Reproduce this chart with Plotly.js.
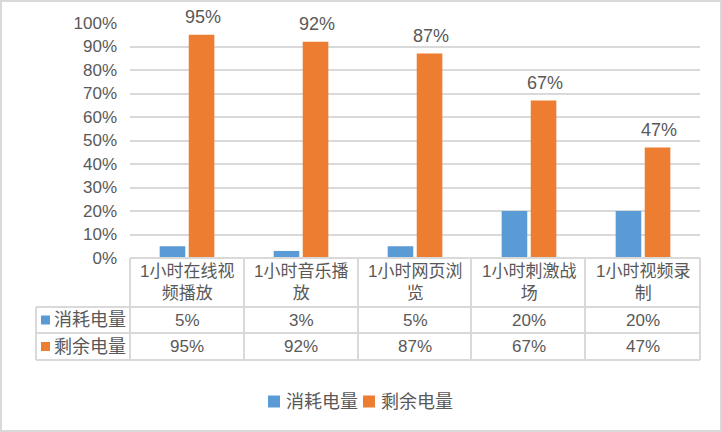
<!DOCTYPE html>
<html>
<head>
<meta charset="utf-8">
<script src="https://cdn.plot.ly/plotly-3.0.1.min.js"></script>
<style>
  html, body { margin: 0; padding: 0; background: #fff; }
  #chart { width: 722px; height: 432px; }
</style>
</head>
<body>
<div id="chart"></div>
<script>
const categories = ['1小时在线视频播放', '1小时音乐播放', '1小时网页浏览', '1小时刺激战场', '1小时视频录制'];
const categoryLabels = ['1小时在线视<br>频播放', '1小时音乐播<br>放', '1小时网页浏<br>览', '1小时刺激战<br>场', '1小时视频录<br>制'];
const seriesNames = ['消耗电量', '剩余电量'];
const consumed = [0.05, 0.03, 0.05, 0.20, 0.20];
const remaining = [0.95, 0.92, 0.87, 0.67, 0.47];

const W = 722, H = 432;
const px = x => x / W;
const py = y => 1 - y / H;
const pct = v => Math.round(v * 100) + '%';

const blue = '#5B9BD5';
const orange = '#ED7D31';
const textColor = '#595959';
const lineColor = '#D9D9D9';
const fontFamily = '"Liberation Sans", "Noto Sans CJK SC", sans-serif';

// table geometry (pixels)
const tableLeft = 36, plotLeft = 130, plotRight = 700;
const headerTop = 258, row1Top = 307, row2Top = 333, tableBottom = 360;
const colEdges = [130, 244, 358, 471, 585, 700];

const traces = [
  {
    type: 'bar', name: seriesNames[0], x: categories, y: consumed,
    marker: { color: blue }, hoverinfo: 'skip'
  },
  {
    type: 'bar', name: seriesNames[1], x: categories, y: remaining,
    marker: { color: orange }, hoverinfo: 'skip'
  }
];

const shapes = [
  // outer frame
  { type: 'rect', xref: 'paper', yref: 'paper', x0: px(1), x1: px(721), y0: py(431), y1: py(1),
    line: { color: lineColor, width: 2 } }
];
function hline(y, x0, x1) {
  shapes.push({ type: 'line', xref: 'paper', yref: 'paper', x0: px(x0), x1: px(x1), y0: py(y), y1: py(y),
    line: { color: lineColor, width: 2 } });
}
function vline(x, y0, y1) {
  shapes.push({ type: 'line', xref: 'paper', yref: 'paper', x0: px(x), x1: px(x), y0: py(y0), y1: py(y1),
    line: { color: lineColor, width: 2 } });
}
hline(headerTop, plotLeft, plotRight);
hline(row1Top, tableLeft, plotRight);
hline(row2Top, tableLeft, plotRight);
hline(tableBottom, tableLeft, plotRight);
vline(tableLeft, row1Top, tableBottom);
colEdges.forEach(x => vline(x, headerTop, tableBottom));

const rowColors = [blue, orange];
const rowCenters = [(row1Top + row2Top) / 2, (row2Top + tableBottom) / 2];
function keySquare(x0, cy, size, color) {
  shapes.push({ type: 'rect', xref: 'paper', yref: 'paper', x0: px(x0), x1: px(x0 + size),
    y0: py(cy + size / 2), y1: py(cy - size / 2), fillcolor: color, line: { width: 0 } });
}
rowCenters.forEach((cy, i) => keySquare(41, cy, 9, rowColors[i]));

const annotations = [];
// data labels above the orange bars
remaining.forEach((v, i) => {
  annotations.push({ xref: 'x', yref: 'y', x: categories[i], y: v, xshift: 16, yshift: 6,
    text: pct(v), showarrow: false, xanchor: 'center', yanchor: 'bottom',
    font: { color: textColor, size: 18, family: fontFamily } });
});
categoryLabels.forEach((label, i) => {
  annotations.push({ xref: 'x', yref: 'paper', x: categories[i], y: py((headerTop + row1Top) / 2),
    text: label, showarrow: false, xanchor: 'center', yanchor: 'middle',
    font: { color: textColor, size: 17, family: fontFamily } });
});
[consumed, remaining].forEach((series, r) => {
  annotations.push({ xref: 'paper', yref: 'paper', x: px(52), y: py(rowCenters[r]),
    text: seriesNames[r], showarrow: false, xanchor: 'left', yanchor: 'middle',
    font: { color: textColor, size: 18, family: fontFamily } });
  series.forEach((v, i) => {
    annotations.push({ xref: 'x', yref: 'paper', x: categories[i], y: py(rowCenters[r]),
      text: pct(v), showarrow: false, xanchor: 'center', yanchor: 'middle',
      font: { color: textColor, size: 17, family: fontFamily } });
  });
});

// bottom legend
const legendY = 401.5;
const legendKeys = [268, 363];
legendKeys.forEach((x0, i) => {
  keySquare(x0, legendY, 12, rowColors[i]);
  annotations.push({ xref: 'paper', yref: 'paper', x: px(x0 + 16), y: py(legendY),
    text: seriesNames[i], showarrow: false, xanchor: 'left', yanchor: 'middle',
    font: { color: textColor, size: 18, family: fontFamily } });
});

const layout = {
  width: W, height: H,
  margin: { l: 0, r: 0, t: 0, b: 0 },
  paper_bgcolor: '#fff', plot_bgcolor: '#fff',
  font: { family: fontFamily, color: textColor, size: 17 },
  barmode: 'group', bargap: 0.49, bargroupgap: 0.12,
  showlegend: false,
  xaxis: {
    domain: [px(plotLeft), px(plotRight)],
    showticklabels: false, showgrid: false, zeroline: false, showline: false, ticks: '',
    fixedrange: true
  },
  yaxis: {
    domain: [py(headerTop), py(23)],
    range: [0, 1], dtick: 0.1, tickformat: '.0%',
    showgrid: true, gridcolor: lineColor, gridwidth: 2,
    zeroline: false, showline: false, ticks: '', ticklabelstandoff: 12,
    tickfont: { size: 17, color: textColor }, fixedrange: true
  },
  shapes: shapes,
  annotations: annotations
};

Plotly.newPlot('chart', traces, layout, { displayModeBar: false, staticPlot: true });
</script>
</body>
</html>
